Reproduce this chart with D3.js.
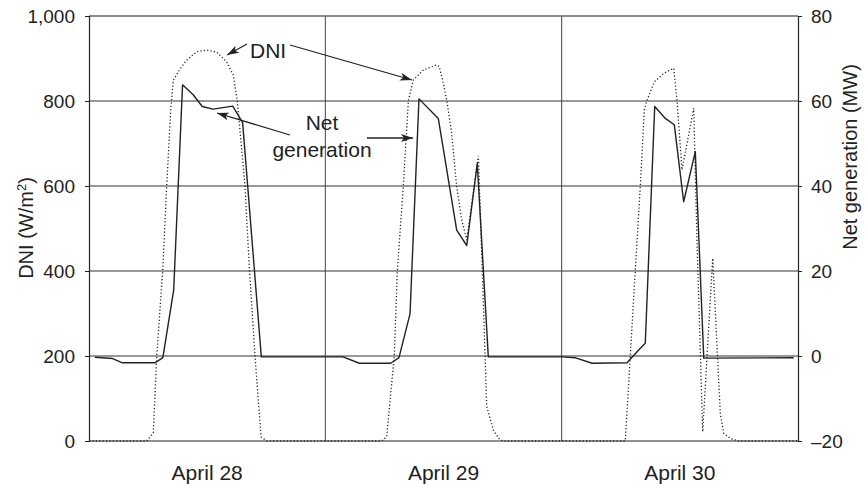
<!DOCTYPE html>
<html><head><meta charset="utf-8">
<script src="https://cdn.jsdelivr.net/npm/d3@7/dist/d3.min.js"></script>
<style>
html,body{margin:0;padding:0;background:#fff;}
svg{display:block;font-family:"Liberation Sans",Arial,Helvetica,sans-serif;}
</style></head>
<body>
<svg id="chart" width="867" height="487"></svg>
<script>
// ---- data ----
const dayLabels = ["April 28", "April 29", "April 30"];
const dniTicks = [0, 200, 400, 600, 800, 1000];
const genTicks = [-20, 0, 20, 40, 60, 80];

// Net generation (MW), time in hours from start of April 28
const netHours = [0.6, 2.4, 3.4, 6.7, 7.5, 8.6, 9.5, 10.6, 11.5, 12.6, 14.6, 15.6, 17.5,
  25.8, 27.45, 30.64, 31.48, 32.6, 33.51, 35.47, 37.34, 38.36, 39.43, 40.55,
  48.1, 49.35, 51.08, 54.64, 55.82, 56.49, 57.45, 58.53, 59.44, 60.39, 61.57, 62.43, 71.57];
const netMW = [-0.3, -0.6, -1.6, -1.6, -0.4, 15.5, 63.8, 61.4, 58.7, 58.1, 58.8, 54.9, -0.2,
  -0.2, -1.7, -1.7, -0.4, 9.9, 60.5, 55.9, 29.6, 26.0, 45.3, -0.2,
  -0.2, -0.4, -1.7, -1.6, 1.4, 3.0, 58.7, 55.9, 54.4, 36.3, 48.1, -0.5, -0.4];

// DNI (W/m2)
const dniHours = [0, 5.86, 6.53, 6.88, 7.48, 7.89, 8.3, 8.56, 9.24, 9.92, 10.94, 11.95, 12.97, 13.98,
  14.65, 15.06, 15.84, 16.3, 16.86, 17.47, 18.05,
  29.72, 30.23, 31.0, 31.31, 31.92, 32.43, 32.93, 33.95, 35.31, 35.57, 35.98, 36.33, 36.83, 37.34,
  37.85, 38.36, 39.54, 39.94, 40.22, 40.39, 41.06, 41.74, 42.25,
  54.46, 54.97, 55.65, 55.99, 56.39, 56.67, 57.41, 58.36, 59.38, 59.71, 60.22, 61.41, 61.74, 62.32,
  63.34, 64.11, 64.46, 65.13, 65.98, 72];
const dniValues = [0, 0, 20, 200, 400, 600, 780, 849, 875, 896, 916, 920, 915, 892,
  861, 800, 600, 400, 200, 10, 0,
  0, 10, 200, 400, 600, 800, 849, 873, 885, 881, 842, 802, 724, 598,
  520, 473, 671, 400, 200, 81, 26, 2, 0,
  0, 200, 470, 600, 779, 802, 845, 865, 877, 802, 638, 783, 473, 22,
  430, 65, 18, 6, 0, 0];

// ---- layout ----
const L = 89, R = 798, T = 16, B = 441;
const svg = d3.select("#chart");
const ink = "#222";

const x = d3.scaleLinear().domain([0, 72]).range([L, R]);
const yL = d3.scaleLinear().domain([0, 1000]).range([B, T]);
const yR = d3.scaleLinear().domain([-20, 80]).range([B, T]);

// grid lines
const grid = svg.append("g");
grid.selectAll("line.h").data(dniTicks.filter(d => d > 0 && d < 1000)).join("line")
  .attr("x1", L).attr("x2", R).attr("y1", d => yL(d)).attr("y2", d => yL(d))
  .attr("stroke", "#333").attr("stroke-width", 1);
grid.selectAll("line.v").data([24, 48]).join("line")
  .attr("x1", d => x(d)).attr("x2", d => x(d)).attr("y1", T).attr("y2", B)
  .attr("stroke", "#444").attr("stroke-width", 1);
// top border
grid.append("line").attr("x1", L).attr("x2", R).attr("y1", T).attr("y2", T)
  .attr("stroke", "#666").attr("stroke-width", 1.5);

// axes
const axL = d3.axisLeft(yL).tickValues(dniTicks).tickSize(4).tickPadding(10).tickFormat(d3.format(","));
const axR = d3.axisRight(yR).tickValues(genTicks).tickSize(4).tickPadding(9)
  .tickFormat(d => d < 0 ? "\u2013" + Math.abs(d) : String(d));
const gL = svg.append("g").attr("transform", `translate(${L},0)`).call(axL);
const gR = svg.append("g").attr("transform", `translate(${R},0)`).call(axR);
[gL, gR].forEach(g => {
  g.select(".domain").attr("stroke", ink).attr("stroke-width", 1.2);
  g.selectAll(".tick line").attr("stroke", ink);
  g.selectAll(".tick text").attr("fill", ink).style("font-size", "19px")
    .style("font-family", '"Liberation Sans",Arial,sans-serif');
});
// bottom axis line
svg.append("line").attr("x1", L).attr("x2", R).attr("y1", B).attr("y2", B)
  .attr("stroke", ink).attr("stroke-width", 1.2);

// day labels
svg.selectAll("text.day").data(dayLabels).join("text")
  .attr("class", "day")
  .attr("x", (d, i) => x(i * 24 + 12)).attr("y", 480)
  .attr("text-anchor", "middle").attr("fill", ink).style("font-size", "21px")
  .text(d => d);

// axis titles
const tl = svg.append("text").attr("transform", "translate(33,228) rotate(-90)")
  .attr("text-anchor", "middle").attr("fill", ink).style("font-size", "20px");
tl.append("tspan").text("DNI (W/m");
tl.append("tspan").attr("dy", -7).style("font-size", "13px").text("2");
tl.append("tspan").attr("dy", 7).text(")");
svg.append("text").attr("transform", "translate(857,157) rotate(-90)")
  .attr("text-anchor", "middle").attr("fill", ink).style("font-size", "20px")
  .text("Net generation (MW)");

// series
const dniData = dniHours.map((h, i) => [h, dniValues[i]]);
const netData = netHours.map((h, i) => [h, netMW[i]]);

svg.append("path").datum(dniData)
  .attr("d", d3.line().x(d => x(d[0])).y(d => yL(d[1])))
  .attr("fill", "none").attr("stroke", ink).attr("stroke-width", 1.3)
  .attr("stroke-dasharray", "1.2,2.2");

svg.append("path").datum(netData)
  .attr("d", d3.line().x(d => x(d[0])).y(d => yR(d[1])))
  .attr("fill", "none").attr("stroke", ink).attr("stroke-width", 1.4)
  .attr("stroke-linejoin", "round");

// annotations
const defs = svg.append("defs");
defs.append("marker").attr("id", "ah").attr("viewBox", "0 0 12 8")
  .attr("refX", 12).attr("refY", 4).attr("markerWidth", 12).attr("markerHeight", 8)
  .attr("markerUnits", "userSpaceOnUse").attr("orient", "auto")
  .append("path").attr("d", "M0,0 L12,4 L0,8 L3,4 Z").attr("fill", ink);

const arrows = [
  [247, 44, 227, 55],
  [290, 45, 412, 80],
  [290, 135, 217, 113],
  [367, 138, 413, 138]
];
svg.selectAll("line.arr").data(arrows).join("line")
  .attr("x1", d => d[0]).attr("y1", d => d[1]).attr("x2", d => d[2]).attr("y2", d => d[3])
  .attr("stroke", ink).attr("stroke-width", 1.3).attr("marker-end", "url(#ah)");

svg.append("text").attr("x", 250).attr("y", 58).attr("fill", ink).style("font-size", "21px").text("DNI");
svg.append("text").attr("x", 322).attr("y", 130).attr("text-anchor", "middle").attr("fill", ink)
  .style("font-size", "21px").text("Net");
svg.append("text").attr("x", 322).attr("y", 157).attr("text-anchor", "middle").attr("fill", ink)
  .style("font-size", "21px").text("generation");
</script>
</body></html>
